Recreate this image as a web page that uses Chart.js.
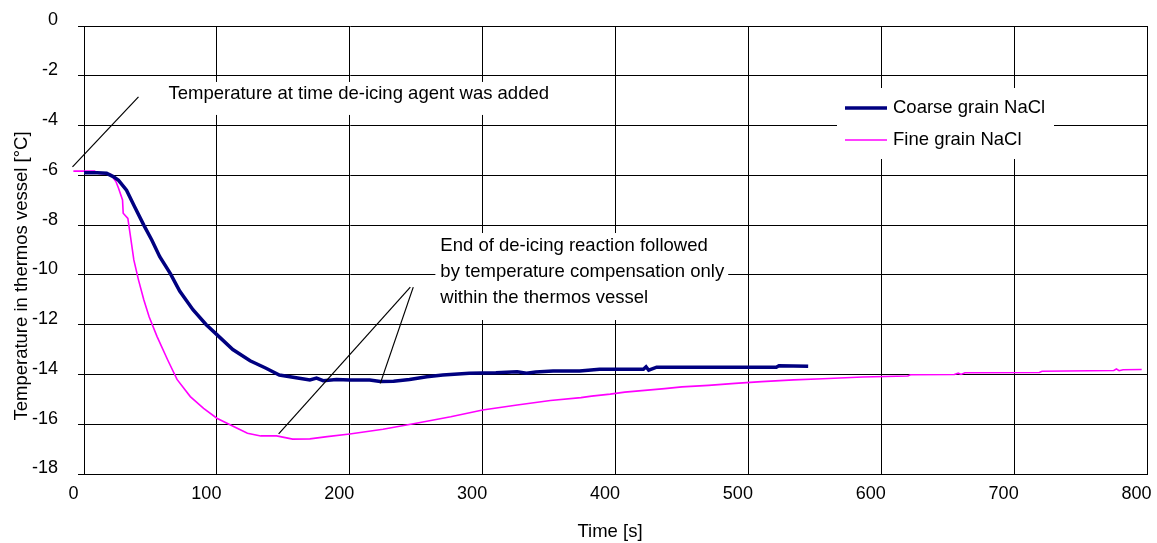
<!DOCTYPE html>
<html>
<head>
<meta charset="utf-8">
<script src="https://cdn.jsdelivr.net/npm/chart.js@4.4.1/dist/chart.umd.min.js"></script>
<style>
  html, body { margin: 0; padding: 0; background: #fff; }
  #wrap { width: 1157px; height: 543px; position: relative; }
</style>
</head>
<body>
<div id="wrap"><canvas id="chart"></canvas></div>
<script>
// ---- data ----
const X_MIN = 0, X_MAX = 800, X_STEP = 100;
const Y_MIN = -18, Y_MAX = 0, Y_STEP = 2;

const X_TITLE = "Time [s]";
const Y_TITLE = "Temperature in thermos vessel [°C]";

const COARSE_LABEL = "Coarse grain NaCl";
const COARSE_T = [0, 10, 17, 22, 26, 32, 38, 45, 51, 57, 65, 72, 82, 92, 100, 112, 125, 137, 147, 162,
  170, 175, 180, 190, 200, 215, 223, 233, 245, 258, 270, 290, 310, 326, 333, 340, 353, 373, 388,
  421, 423, 425, 431, 470, 521, 523, 545];
const COARSE_V = [-5.9, -5.9, -5.92, -6.05, -6.2, -6.6, -7.25, -8.0, -8.6, -9.27, -9.95, -10.65, -11.4, -12.0, -12.4, -13.0, -13.45, -13.75, -14.02, -14.15,
  -14.22, -14.15, -14.25, -14.2, -14.22, -14.22, -14.28, -14.27, -14.2, -14.09, -14.02, -13.95, -13.93, -13.89, -13.95, -13.9, -13.86, -13.86, -13.79,
  -13.79, -13.69, -13.83, -13.71, -13.71, -13.71, -13.65, -13.67];

const FINE_LABEL = "Fine grain NaCl";
const FINE_T = [-8, 8, 10, 20, 24, 26, 29, 29.5, 33, 35, 37.5, 41, 45, 49, 55, 63, 70, 80, 90, 100,
  113, 123, 133, 145, 157, 170, 183, 200, 225, 250, 276, 300, 326, 351, 374, 382, 396, 407, 422, 437,
  450, 470, 490, 510, 534, 556, 586, 620, 622, 655, 658, 660, 663, 719, 721, 775, 777, 779, 782, 796];
const FINE_V = [-5.83, -5.83, -5.92, -5.96, -6.25, -6.52, -6.99, -7.52, -7.73, -8.46, -9.4, -10.2, -11.0, -11.68, -12.48, -13.42, -14.2, -14.89, -15.36, -15.76,
  -16.1, -16.36, -16.47, -16.47, -16.6, -16.59, -16.5, -16.39, -16.2, -15.96, -15.7, -15.43, -15.23, -15.05, -14.93, -14.87, -14.79, -14.71, -14.64, -14.57,
  -14.5, -14.44, -14.36, -14.29, -14.22, -14.17, -14.1, -14.06, -14.01, -14.0, -13.95, -14.0, -13.93, -13.92, -13.87, -13.84, -13.78, -13.85, -13.81, -13.8];

// notes: text anchor and leader lines, in data units (time, temperature)
const NOTE1_LINES = ["Temperature at time de-icing agent was added"];
const NOTE1_AT = [63.6, -2.73];
const NOTE1_LEADERS = [[[-8.65, -5.66], [41, -2.85]]];

const NOTE2_LINES = ["End of de-icing reaction followed", "by temperature compensation only", "within the thermos vessel"];
const NOTE2_AT = [268.2, -8.84];
const NOTE2_LEADERS = [[[245.6, -10.49], [146.5, -16.39]], [[247.8, -10.49], [223, -14.36]]];

// ------------------------------------------------------------

const FONT = "'Liberation Sans', Arial, sans-serif";
const TEXT_PX = 18.5;

function toPoints(ts, vs) {
  return ts.map((t, i) => ({ x: t, y: vs[i] }));
}

function drawNoteBox(ctx, x, y, lines, padL, padR, padT, padB) {
  ctx.font = `${TEXT_PX}px ${FONT}`;
  const w = Math.max(...lines.map(s => ctx.measureText(s).width));
  const h = (lines.length - 1) * 26;
  ctx.fillStyle = "#fff";
  ctx.fillRect(x - padL, y - padT, w + padL + padR, h + padT + padB);
}

function drawNoteText(ctx, x, y, lines) {
  ctx.font = `${TEXT_PX}px ${FONT}`;
  ctx.fillStyle = "#000";
  ctx.textAlign = "left";
  ctx.textBaseline = "middle";
  lines.forEach((s, i) => ctx.fillText(s, x, y + i * 26));
}

function drawLeaders(ctx, xs, ys, leaders) {
  ctx.strokeStyle = "#000";
  ctx.lineWidth = 1.2;
  for (const [a, b] of leaders) {
    ctx.beginPath();
    ctx.moveTo(xs.getPixelForValue(a[0]), ys.getPixelForValue(a[1]));
    ctx.lineTo(xs.getPixelForValue(b[0]), ys.getPixelForValue(b[1]));
    ctx.stroke();
  }
}

const notesPlugin = {
  id: "notes",
  beforeDatasetsDraw(chart) {
    const { ctx, scales: { x, y }, chartArea } = chart;
    ctx.save();
    drawNoteBox(ctx, x.getPixelForValue(NOTE1_AT[0]), y.getPixelForValue(NOTE1_AT[1]), NOTE1_LINES, 8, 8, 12, 21);
    drawNoteBox(ctx, x.getPixelForValue(NOTE2_AT[0]), y.getPixelForValue(NOTE2_AT[1]), NOTE2_LINES, 5, 4, 13, 22);
    // legend box
    ctx.fillStyle = "#fff";
    ctx.fillRect(chartArea.right - 310, chartArea.top + 62, 217, 71);
    ctx.restore();
  },
  afterDatasetsDraw(chart) {
    const { ctx, scales: { x, y }, chartArea } = chart;
    ctx.save();
    drawLeaders(ctx, x, y, NOTE1_LEADERS);
    drawLeaders(ctx, x, y, NOTE2_LEADERS);
    drawNoteText(ctx, x.getPixelForValue(NOTE1_AT[0]), y.getPixelForValue(NOTE1_AT[1]), NOTE1_LINES);
    drawNoteText(ctx, x.getPixelForValue(NOTE2_AT[0]), y.getPixelForValue(NOTE2_AT[1]), NOTE2_LINES);

    // legend
    const lx = chartArea.right - 302;
    const rows = [chartArea.top + 82, chartArea.top + 114];
    chart.data.datasets.forEach((ds, i) => {
      ctx.strokeStyle = ds.borderColor;
      ctx.lineWidth = ds.borderWidth;
      ctx.beginPath();
      ctx.moveTo(lx, rows[i]);
      ctx.lineTo(lx + 42, rows[i]);
      ctx.stroke();
      ctx.font = `${TEXT_PX}px ${FONT}`;
      ctx.fillStyle = "#000";
      ctx.textAlign = "left";
      ctx.textBaseline = "middle";
      ctx.fillText(ds.label, lx + 48, rows[i]);
    });

    // axis titles
    ctx.font = `${TEXT_PX}px ${FONT}`;
    ctx.fillStyle = "#000";
    ctx.textAlign = "center";
    ctx.textBaseline = "middle";
    ctx.fillText(X_TITLE, 610, 532);
    ctx.translate(22, 276);
    ctx.rotate(-Math.PI / 2);
    ctx.fillText(Y_TITLE, 0, 0);
    ctx.restore();
  }
};

Chart.defaults.font.family = FONT;
Chart.defaults.color = "#000";

const chart = new Chart(document.getElementById("chart"), {
  type: "line",
  data: {
    datasets: [
      {
        label: COARSE_LABEL,
        data: toPoints(COARSE_T, COARSE_V),
        borderColor: "#000080",
        borderWidth: 3.5,
        pointRadius: 0,
        tension: 0,
        fill: false
      },
      {
        label: FINE_LABEL,
        data: toPoints(FINE_T, FINE_V),
        borderColor: "#ff00ff",
        borderWidth: 1.6,
        pointRadius: 0,
        tension: 0,
        fill: false,
        clip: { left: 15, top: 0, right: 0, bottom: 0 }
      }
    ]
  },
  options: {
    responsive: true,
    maintainAspectRatio: false,
    animation: false,
    layout: { padding: { left: 0, top: 26, right: 10, bottom: 0 } },
    plugins: {
      legend: { display: false },
      tooltip: { enabled: false }
    },
    scales: {
      x: {
        type: "linear",
        min: X_MIN,
        max: X_MAX,
        ticks: { stepSize: X_STEP, labelOffset: -10.5, padding: 9, maxRotation: 0, font: { size: 18 } },
        grid: { color: "#000", lineWidth: 1, drawTicks: false },
        border: { color: "#000" },
        afterFit: (s) => { s.height = 69; s.paddingLeft = 0; s.paddingRight = 0; }
      },
      y: {
        type: "linear",
        min: Y_MIN,
        max: Y_MAX,
        ticks: { stepSize: Y_STEP, labelOffset: -5.5, padding: 20, font: { size: 18 } },
        grid: { color: "#000", lineWidth: 1, tickLength: 6 },
        border: { color: "#000" },
        afterFit: (s) => { s.width = 84; s.paddingTop = 0; s.paddingBottom = 0; }
      }
    }
  },
  plugins: [notesPlugin]
});
</script>
</body>
</html>
